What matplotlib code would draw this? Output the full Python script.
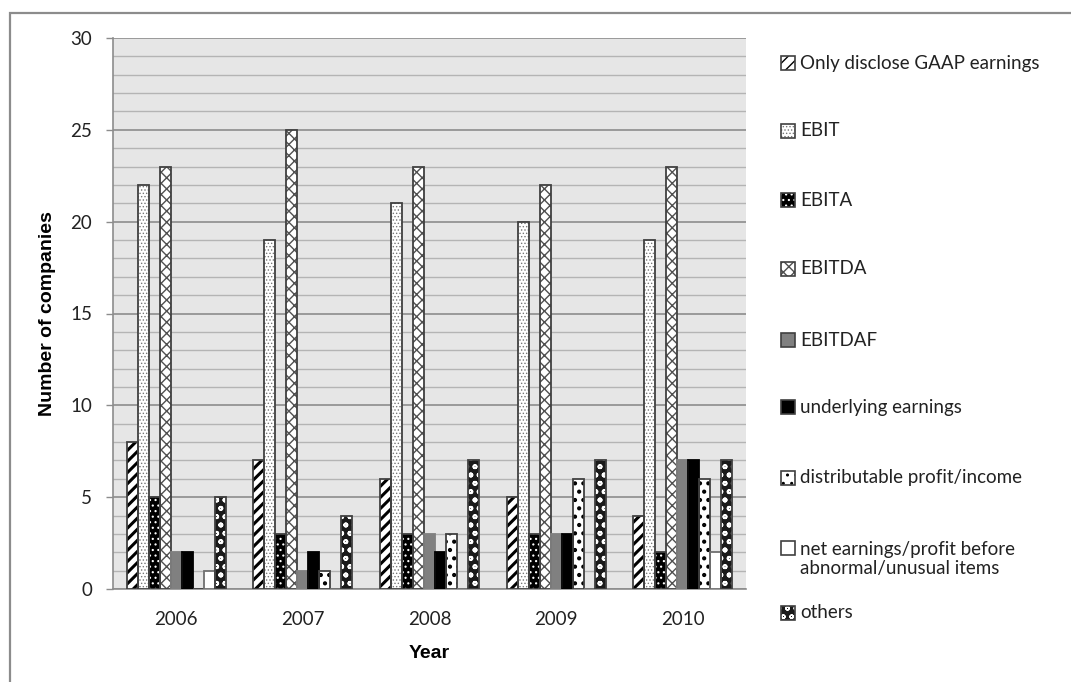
import numpy as np
import matplotlib
matplotlib.use("Agg")
import matplotlib.pyplot as plt
from matplotlib.patches import Rectangle

#-------------- Data --------------
years = ["2006", "2007", "2008", "2009", "2010"]
gaap = [8, 7, 6, 5, 4]
ebit = [22, 19, 21, 20, 19]
ebita = [5, 3, 3, 3, 2]
ebitda = [23, 25, 23, 22, 23]
ebitdaf = [2, 1, 3, 3, 7]
underlying = [2, 2, 2, 3, 7]
distributable = [0, 1, 3, 6, 6]
net_earnings = [1, 0, 0, 0, 2]
others = [5, 4, 7, 7, 7]

labels = ["Only disclose GAAP earnings", "EBIT", "EBITA", "EBITDA", "EBITDAF",
          "underlying earnings", "distributable profit/income",
          "net earnings/profit before\nabnormal/unusual items", "others"]
series = [gaap, ebit, ebita, ebitda, ebitdaf, underlying, distributable,
          net_earnings, others]
#----------------------------------

# face, hatch, hatch colour, hatch linewidth, outline colour
styles = [
    ("white",   "///",   "black",   2.2, "#404040"),
    ("white",   ".....", "#777777", 0.6, "#404040"),
    ("black",   "...",   "white",   0.8, "#404040"),
    ("white",   "xxx",   "#505050", 1.0, "#404040"),
    ("#808080", "",      "#808080", 1.0, "#808080"),
    ("black",   "",      "black",   1.0, "black"),
    ("white",   "..",    "black",   1.8, "#404040"),
    ("white",   "",      "white",   1.0, "#707070"),
    ("#1a1a1a", "oo",    "white",   1.2, "#404040"),
]

W, H = 1071, 682
def px(x, y):
    return x / W, 1 - y / H

plt.rcParams['font.family'] = ['Lato', 'DejaVu Sans']
fig = plt.figure(figsize=(W / 100, H / 100), dpi=100)

# outer frame of the chart
fig.add_artist(Rectangle(px(10, 700), (W + 20) / W, (700 - 13) / H,
                         transform=fig.transFigure, fill=False,
                         edgecolor="#8c8c8c", linewidth=1.6))

ax = fig.add_axes([113 / W, 1 - 589 / H, (746 - 113) / W, (589 - 38) / H])
ax.set_facecolor("#e6e6e6")

x = np.arange(len(years))
bw = 0.087
n = len(series)
for i, (vals, st) in enumerate(zip(series, styles)):
    face, hatch, hcol, hlw, ecol = st
    pos = x + (i - (n - 1) / 2) * bw
    with plt.rc_context({'hatch.linewidth': hlw}):
        ax.bar(pos, vals, bw, color=face, edgecolor=hcol, hatch=hatch,
               linewidth=0, zorder=3)
    ax.bar(pos, vals, bw, fill=False, edgecolor=ecol, linewidth=1.3, zorder=4)

ax.set_xlim(-0.5, len(years) - 0.5)
ax.set_ylim(0, 30)
ax.set_yticks(range(0, 31, 5))
ax.set_yticks(range(0, 31), minor=True)
ax.grid(axis='y', which='minor', color="#b4b4b4", linewidth=1.0, zorder=1)
ax.grid(axis='y', which='major', color="#8c8c8c", linewidth=1.2, zorder=2)
ax.set_axisbelow(True)
ax.set_xticks(x)
ax.set_xticklabels(years)
ax.tick_params(axis='x', length=0, pad=16, labelsize=13.5, colors="#222222")
ax.tick_params(axis='y', which='major', length=5, width=1, color="#8c8c8c",
               pad=10, labelsize=13.5, labelcolor="#222222")
ax.tick_params(axis='y', which='minor', length=0)
for s in ["top", "right"]:
    ax.spines[s].set_visible(False)
for s in ["left", "bottom"]:
    ax.spines[s].set_color("#8c8c8c")
    ax.spines[s].set_linewidth(1.2)

ax.set_xlabel("Year", fontsize=14, fontweight='bold', labelpad=12,
              family='Liberation Sans')
ax.set_ylabel("Number of companies", fontsize=14, fontweight='bold',
              labelpad=10, family='Liberation Sans')

#-------------- Legend (drawn by hand, Excel style) --------------
legend_y = [63, 131, 200, 269, 340, 407, 478, 559, 613]
for lab, st, ly in zip(labels, styles, legend_y):
    face, hatch, hcol, hlw, ecol = st
    py = ly if "\n" not in lab else 548
    with plt.rc_context({'hatch.linewidth': min(hlw, 1.0)}):
        fig.add_artist(Rectangle(px(781, py + 7), 14 / W, 14 / H,
                                 transform=fig.transFigure, facecolor=face,
                                 edgecolor=hcol, hatch=hatch, linewidth=0))
    fig.add_artist(Rectangle(px(781, py + 7), 14 / W, 14 / H,
                             transform=fig.transFigure, fill=False,
                             edgecolor="#404040", linewidth=1.2))
    tx, ty = px(800, ly)
    fig.text(tx, ty, lab, fontsize=13.5, va='center', ha='left',
             color="#222222", linespacing=1.15)

fig.savefig("out.png", dpi=100)
